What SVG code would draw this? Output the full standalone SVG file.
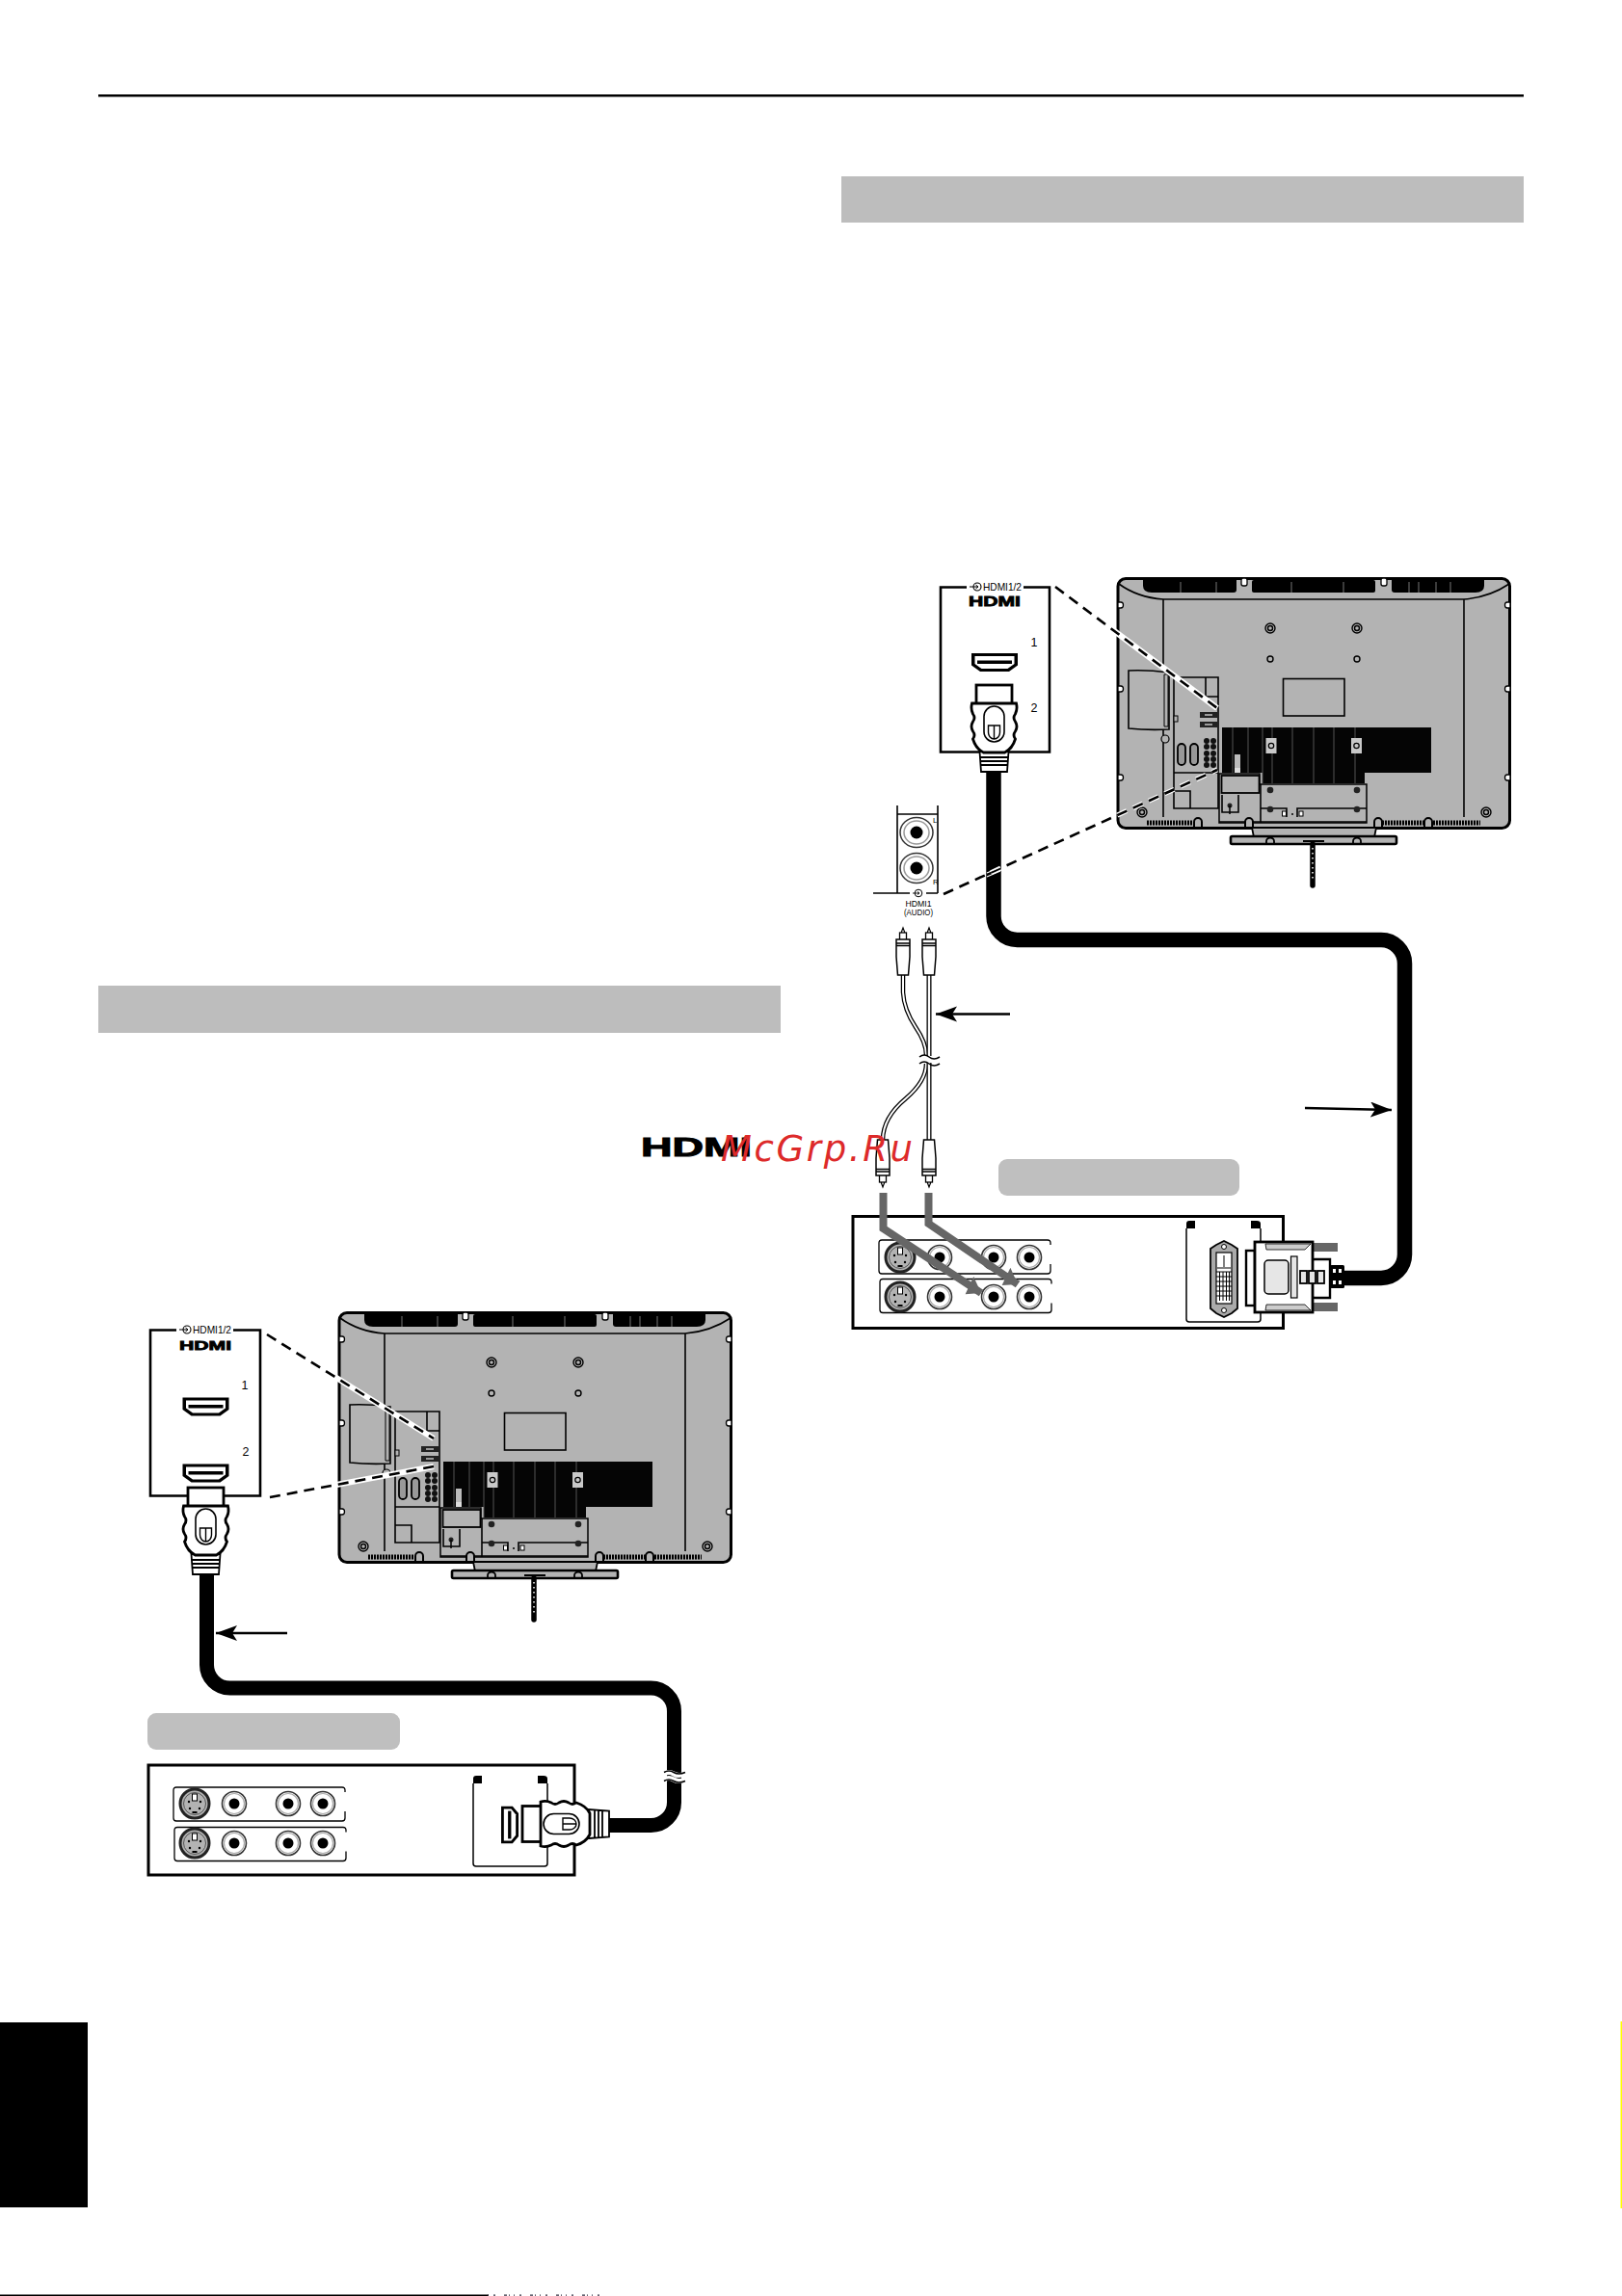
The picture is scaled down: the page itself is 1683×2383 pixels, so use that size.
<svg xmlns="http://www.w3.org/2000/svg" xmlns:xlink="http://www.w3.org/1999/xlink" width="1683" height="2383" viewBox="0 0 1683 2383">
<style>
.ln{fill:none;stroke:#000;stroke-width:1.6}
.th{fill:none;stroke:#000;stroke-width:2.6}
.gp{fill:#b3b3b3}
.bar{fill:#bdbdbd}
.pill{fill:#bfbfbf}
.cable{fill:none;stroke:#000;stroke-width:15.5}
.dash{fill:none;stroke:#000;stroke-width:2.6;stroke-dasharray:11 7}
.halo{fill:none;stroke:#fff;stroke-width:6}
.halo2{fill:none;stroke:#fff;stroke-width:5;stroke-dasharray:11 7}
.lab{font-family:"Liberation Sans",Arial,sans-serif;fill:#000}
.logo{font-family:"Liberation Sans",Arial,sans-serif;font-weight:700;fill:#000;stroke:#000}
.arrow{fill:none;stroke:#000;stroke-width:2.4}
.grey{fill:none;stroke:#666;stroke-width:8}
</style>
<defs>
<marker id="ah" markerUnits="userSpaceOnUse" markerWidth="24" markerHeight="18" refX="22" refY="8" orient="auto"><path d="M22 8 L0 0 L5 8 L0 16 Z" fill="#000"/></marker>
<marker id="gh" markerUnits="userSpaceOnUse" markerWidth="22" markerHeight="22" refX="16" refY="10" orient="auto"><path d="M16 10 L0 0 L3 20 Z" fill="#666"/></marker>
<g id="tv">
<rect x="1160" y="600.5" width="406.5" height="259" rx="8" class="gp" stroke="#000" stroke-width="3"/>
<path d="M1186 602 H1283 V612 Q1283 615 1280 615 H1195 Q1186 615 1186 608 Z"/>
<rect x="1299" y="602" width="128" height="13" rx="2"/>
<path d="M1444 602 H1540 V608 Q1540 615 1531 615 H1447 Q1444 615 1444 612 Z"/>
<path d="M1225 604 V615 M1262 604 V615 M1340 604 V615 M1394 604 V615 M1462 604 V615 M1472 604 V615 M1490 604 V615 M1505 604 V615" stroke="#777" stroke-width="1" fill="none"/>
<rect x="1288" y="600" width="6" height="8" rx="2" fill="#fff" stroke="#000" stroke-width="1.3"/>
<rect x="1433" y="600" width="6" height="8" rx="2" fill="#fff" stroke="#000" stroke-width="1.3"/>
<path class="ln" d="M1161 606 Q1180 620 1207 622 H1519 Q1545 620 1566 606 M1207 622 V848 M1519 622 V848"/>
<g fill="#fff" stroke="#000" stroke-width="1.3">
<path d="M1160 625 h3 a2.5 3 0 0 1 0 6 h-3 Z"/><path d="M1160 712 h3 a2.5 3 0 0 1 0 6 h-3 Z"/><path d="M1160 804 h3 a2.5 3 0 0 1 0 6 h-3 Z"/>
<path d="M1567 625 h-3 a2.5 3 0 0 0 0 6 h3 Z"/><path d="M1567 712 h-3 a2.5 3 0 0 0 0 6 h3 Z"/><path d="M1567 804 h-3 a2.5 3 0 0 0 0 6 h3 Z"/>
</g>
<g fill="none" stroke="#000" stroke-width="1.4">
<circle cx="1318" cy="652" r="5"/><circle cx="1318" cy="652" r="2.5"/>
<circle cx="1408" cy="652" r="5"/><circle cx="1408" cy="652" r="2.5"/>
<circle cx="1318" cy="684" r="3"/><circle cx="1408" cy="684" r="3"/>
<circle cx="1185" cy="843" r="5"/><circle cx="1185" cy="843" r="2.5"/>
<circle cx="1542" cy="843" r="5"/><circle cx="1542" cy="843" r="2.5"/>
</g>
<rect x="1331.5" y="704.5" width="63.500" height="38.500" class="ln"/>
<path class="gp" stroke="#000" stroke-width="1.6" d="M1171 696 Q1190 695 1213 698 V757 Q1190 758 1171 756 Z"/>
<path d="M1208 700 h4 v54 h-4 z" fill="none" stroke="#000" stroke-width="1"/>
<circle cx="1209" cy="767" r="4" class="gp" stroke="#000" stroke-width="1.2"/>
<path class="ln" d="M1218 703 H1264 V839 H1218 Z M1251 703 V723 H1264 M1218 802 H1264 M1218 821 H1235 V839"/>
<rect x="1218" y="743" width="4" height="6" fill="#b3b3b3" stroke="#000" stroke-width="1"/>
<rect x="1245" y="739" width="18" height="6" fill="#222"/><rect x="1245" y="749" width="18" height="6" fill="#222"/>
<rect x="1250" y="741" width="8" height="2" fill="#999"/><rect x="1250" y="751" width="8" height="2" fill="#999"/>
<rect x="1222" y="772" width="8" height="22" rx="4" fill="#999" stroke="#000" stroke-width="1.800"/><rect x="1235" y="772" width="8" height="22" rx="4" fill="#999" stroke="#000" stroke-width="1.800"/>
<g fill="#111"><circle cx="1252" cy="769" r="3"/><circle cx="1259" cy="769" r="3"/><circle cx="1252" cy="775" r="3"/><circle cx="1259" cy="775" r="3"/><circle cx="1252" cy="782" r="3"/><circle cx="1259" cy="782" r="3"/><circle cx="1252" cy="788" r="3"/><circle cx="1259" cy="788" r="3"/><circle cx="1252" cy="794" r="3"/><circle cx="1259" cy="794" r="3"/></g>
<path d="M1268 755 H1485 V802 H1416 V813 H1310 V802 H1268 Z" fill="#050505"/>
<path d="M1279 755 V802 M1295 755 V802 M1310 755 V813 M1320 755 V813 M1341 755 V813 M1363 755 V813 M1384 755 V813 M1406 755 V813" stroke="#555" stroke-width="1" fill="none"/>
<rect x="1313.500" y="766" width="11" height="16" fill="#c9c9c9"/><circle cx="1319" cy="774" r="2.700" fill="#c9c9c9" stroke="#000" stroke-width="1.200"/>
<rect x="1402" y="766" width="11" height="16" fill="#c9c9c9"/><circle cx="1407.500" cy="774" r="2.700" fill="#c9c9c9" stroke="#000" stroke-width="1.200"/>
<rect x="1281" y="783" width="6" height="14" fill="#bbb"/><rect x="1281" y="797" width="6" height="5" fill="#ddd"/>
<path class="gp" stroke="#000" stroke-width="1.500" d="M1265 803 H1307 V814 H1418 V848 L1418 854 H1265 Z"/>
<rect x="1267.500" y="805" width="39" height="18" class="gp" stroke="#000" stroke-width="1.800"/>
<path class="ln" d="M1268 825 V843 H1285 V825 M1308 814 V854 M1265 853 H1418"/>
<circle cx="1276" cy="836" r="2.500" fill="#222"/><path d="M1276 836 V845" stroke="#000" stroke-width="1.500"/>
<path class="ln" d="M1308 839 H1335 V848 M1346 848 V839 H1418"/>
<rect x="1330.500" y="842" width="4" height="5" fill="#fff" stroke="#000"/><rect x="1348" y="842" width="4" height="5" fill="#fff" stroke="#000"/>
<circle cx="1341" cy="845" r="1" fill="#000"/>
<g fill="#222"><circle cx="1318" cy="820" r="3.300"/><circle cx="1408" cy="820" r="3.300"/><circle cx="1318" cy="840" r="3.300"/><circle cx="1408" cy="840" r="3.300"/></g>
<path d="M1190 854 H1238 M1434 854 H1478 M1487 854 H1536" stroke="#000" stroke-width="5" fill="none" stroke-dasharray="2 1"/>
<g fill="#b3b3b3" stroke="#000" stroke-width="2"><path d="M1239 858 v-5 a4 4 0 0 1 8 0 v5"/><path d="M1292 858 v-5 a4 4 0 0 1 8 0 v5"/><path d="M1426 858 v-5 a4 4 0 0 1 8 0 v5"/><path d="M1478 858 v-5 a4 4 0 0 1 8 0 v5"/></g>
<path class="gp" stroke="#000" stroke-width="1.800" d="M1299 859 H1428 L1426 869 H1301 Z"/>
<rect x="1277" y="868" width="172" height="8" rx="1.500" class="gp" stroke="#000" stroke-width="2.600"/>
<path d="M1314 876 v-3 a4 3.500 0 0 1 8 0 v3 M1404 876 v-3 a4 3.500 0 0 1 8 0 v3" fill="none" stroke="#000" stroke-width="1.800"/>
<rect x="1352" y="872" width="22" height="2" fill="#000"/>
<path d="M1362 876 V919" stroke="#000" stroke-width="5.500" stroke-linecap="round"/>
<path d="M1362 880 V912" stroke="#fff" stroke-width="1.500" stroke-dasharray="1.500 3.500"/>
</g>
<g id="port">
<path d="M-24 -9.500 H24 V3 L15 9.500 H-15 L-24 3 Z" fill="#000"/>
<path d="M-20.500 -6.500 H20.500 V1.500 L13.500 6.500 H-13.500 L-20.500 1.500 Z" fill="#fff"/>
<rect x="-18" y="-2" width="36" height="3.500" fill="#000"/>
</g>
<g id="plug">
<path d="M-15 50 L-13.500 71 H13.500 L15 50 Z M-14 56 H14 M-14 60 H14 M-14 64 H14" fill="#fff" stroke="#000" stroke-width="1.800"/>
<rect x="-18.500" y="-19" width="37" height="20" fill="#fff" stroke="#000" stroke-width="2.800"/>
<path d="M-23 0 Q-24.500 6 -22 11 Q-19 15 -22 19 Q-25 24 -22 29 Q-19 33 -22 37 Q-19 47 -11 51 H11 Q19 47 22 37 Q19 33 22 29 Q25 24 22 19 Q19 15 22 11 Q24.500 6 23 0 Z" fill="#fff" stroke="#000" stroke-width="2.800"/>
<rect x="-10.500" y="3" width="21" height="37" rx="10.500" fill="#fff" stroke="#000" stroke-width="1.600"/>
<path d="M-6 23 H6 V30 A6 7 0 0 1 -6 30 Z M0 23 V37" fill="none" stroke="#000" stroke-width="1.400"/>
</g>
<g id="rca">
<circle r="12.500" fill="#fff" stroke="#333" stroke-width="1.600"/>
<circle r="10.500" fill="none" stroke="#aaa" stroke-width="1.200"/>
<circle r="5.500" fill="#000"/>
</g>
<g id="svid">
<circle r="15" fill="#b3b3b3" stroke="#222" stroke-width="3"/>
<circle r="11.500" fill="none" stroke="#555" stroke-width="1"/>
<rect x="-2.500" y="-10" width="5" height="7" fill="#fff" stroke="#000" stroke-width="1"/>
<g fill="#000"><circle cx="-6" cy="-2" r="1.200"/><circle cx="6" cy="-2" r="1.200"/><circle cx="-5" cy="5" r="1.200"/><circle cx="5" cy="5" r="1.200"/><rect x="-2.500" y="8" width="5" height="2"/></g>
</g>
<g id="rplug">
<path d="M-1.500 4 L0 0 L1.500 4 V6 H-1.500 Z" fill="#fff" stroke="#000" stroke-width="1.200"/>
<rect x="-3.500" y="5" width="7" height="8" fill="#fff" stroke="#000" stroke-width="1.300"/>
<path d="M-7 12 H7 V30 L5.500 49 H-5.500 L-7 30 Z M-7 16 H7 M-7 18.500 H7" fill="#fff" stroke="#000" stroke-width="1.500"/>
</g>
<g id="strip"><path class="ln" d="M178 5 V3 Q178 0 175 0 H3 Q0 0 0 3 V32 Q0 35 3 35 H175 Q178 35 178 32 V25" style="stroke-width:1.300"/></g>
</defs>

<g id="header">
<rect x="102" y="98" width="1479" height="2.500" fill="#000"/>
<rect class="bar" x="873" y="183" width="708" height="48"/>
<rect class="bar" x="102" y="1023" width="708" height="49"/>
<rect x="0" y="2099" width="91" height="192" fill="#000"/>
<rect x="1681.500" y="2098" width="1.500" height="194" fill="#ffff00"/>
<rect x="0" y="2381.500" width="507" height="1.500" fill="#000"/>
<path d="M506 2382.200 H630" stroke="#334" stroke-width="1.200" stroke-dasharray="1 5 2 9 3 2 1 4"/>
</g>

<g id="tv-right"><use xlink:href="#tv" href="#tv"/></g>
<g id="tv-left"><use xlink:href="#tv" href="#tv" transform="translate(-808 762)"/></g>

<g id="connectors">
<path class="cable" d="M1031 790 V951 A24.500 24.500 0 0 0 1055.500 975.500 H1433 A24.500 24.500 0 0 1 1457.500 1000 V1302 A24.500 24.500 0 0 1 1433 1326.500 H1395"/>
<path class="cable" d="M214.500 1630 V1728 A24 24 0 0 0 238.500 1752 H675.500 A24 24 0 0 1 699.500 1776 V1870 A24 24 0 0 1 675.500 1894.500 H630" style="stroke-width:15"/>
<path d="M689 1841 Q694 1838 699 1841 T711 1841 M689 1847 Q694 1844 699 1847 T711 1847" fill="none" stroke="#fff" stroke-width="5"/>
<path d="M689 1839.500 Q694 1836.500 699 1839.500 T711 1839.500 M689 1848.500 Q694 1845.500 699 1848.500 T711 1848.500" fill="none" stroke="#000" stroke-width="1.500"/>
<path class="halo" d="M1095 609 L1263 735"/>
<path class="dash" d="M1095 609 L1263 735"/>
<path class="halo2" d="M979 928 L1263 799"/>
<path class="dash" d="M979 928 L1263 799"/>
<path d="M1024 906 L1038 900 M1024 910 L1038 904" stroke="#fff" stroke-width="1.300" fill="none"/>
<path class="halo" d="M277 1385 L450 1493"/>
<path class="dash" d="M277 1385 L450 1493"/>
<path class="halo" d="M280 1554 L450 1522"/>
<path class="dash" d="M280 1554 L450 1522"/>
<path d="M937 1012 V1030 Q938 1048 950 1066 Q961 1082 961 1095 M961 1104 Q961 1122 940 1140 Q916 1160 916 1183" fill="none" stroke="#000" stroke-width="4.500"/>
<path d="M937 1012 V1030 Q938 1048 950 1066 Q961 1082 961 1095 M961 1104 Q961 1122 940 1140 Q916 1160 916 1183" fill="none" stroke="#fff" stroke-width="2"/>
<path d="M964 1012 V1096 M964 1103 V1183" fill="none" stroke="#000" stroke-width="5"/>
<path d="M964 1012 V1096 M964 1103 V1183" fill="none" stroke="#fff" stroke-width="2.400"/>
<path d="M954 1097 Q959 1093 964 1097 T975 1097 M954 1104 Q959 1100 964 1104 T975 1104" fill="none" stroke="#000" stroke-width="1.600"/>
<path class="arrow" marker-end="url(#ah)" d="M1048 1052.500 H971"/>
<path class="arrow" marker-end="url(#ah)" d="M1354 1150 L1444 1152"/>
<path class="arrow" marker-end="url(#ah)" d="M298 1695 H224"/>
</g>

<g id="inset-right">
<path class="th" d="M1003 609.500 H976 V780.500 H1089 V609.500 H1062"/>
<circle cx="1014" cy="609" r="4" fill="#fff" stroke="#000" stroke-width="1.100"/><path d="M1006 609 H1015 M1012.500 607 L1015 609 L1012.500 611" fill="none" stroke="#000" stroke-width="1"/>
<text class="lab" x="1020" y="613" font-size="11" textLength="40" lengthAdjust="spacingAndGlyphs">HDMI1/2</text>
<text class="logo" x="1005" y="629" font-size="14" textLength="54" lengthAdjust="spacingAndGlyphs" stroke-width=".8">HDMI</text>
<text class="lab" x="1073" y="671" font-size="12.500" text-anchor="middle">1</text>
<text class="lab" x="1073" y="739" font-size="12.500" text-anchor="middle">2</text>
<use xlink:href="#port" href="#port" transform="translate(1032 687.500)"/>
<use xlink:href="#plug" href="#plug" transform="translate(1031.500 730)"/>
</g>

<g id="inset-left">
<path class="th" d="M183 1380.500 H156 V1552.500 H270 V1380.500 H242"/>
<circle cx="194" cy="1380" r="4" fill="#fff" stroke="#000" stroke-width="1.100"/><path d="M186 1380 H195 M192.500 1378 L195 1380 L192.500 1382" fill="none" stroke="#000" stroke-width="1"/>
<text class="lab" x="200" y="1384" font-size="11" textLength="40" lengthAdjust="spacingAndGlyphs">HDMI1/2</text>
<text class="logo" x="186" y="1401" font-size="13" textLength="54" lengthAdjust="spacingAndGlyphs" stroke-width=".8">HDMI</text>
<text class="lab" x="254" y="1442" font-size="12.500" text-anchor="middle">1</text>
<text class="lab" x="255" y="1511" font-size="12.500" text-anchor="middle">2</text>
<use xlink:href="#port" href="#port" transform="translate(213.500 1460)"/>
<use xlink:href="#port" href="#port" transform="translate(213.500 1529)"/>
<use xlink:href="#plug" href="#plug" transform="translate(213.500 1563)"/>
</g>

<g id="audio-inset">
<path class="ln" d="M931 836 V927 M973 836 V927 M931 845 H973 M906 927 H944 M961 927 H973"/>
<g fill="#fff" stroke="#333" stroke-width="1.500">
<ellipse cx="951" cy="864" rx="17" ry="15.500"/><ellipse cx="951" cy="864" rx="13" ry="12" stroke="#999"/>
<ellipse cx="951" cy="901" rx="17" ry="15.500"/><ellipse cx="951" cy="901" rx="13" ry="12" stroke="#999"/>
</g>
<circle cx="951" cy="864" r="6.500"/><circle cx="951" cy="901" r="6.500"/>
<circle cx="953" cy="927" r="3.800" fill="#fff" stroke="#000" stroke-width="1"/><path d="M947 927 H954 M952 925.500 L954 927 L952 928.500" fill="none" stroke="#000" stroke-width=".9"/>
<text class="lab" x="968" y="854" font-size="8">L</text>
<text class="lab" x="968" y="918" font-size="8">R</text>
<text class="lab" x="953" y="941" font-size="9" text-anchor="middle" textLength="27" lengthAdjust="spacingAndGlyphs">HDMI1</text>
<text class="lab" x="953" y="949.500" font-size="9" text-anchor="middle" textLength="30" lengthAdjust="spacingAndGlyphs">(AUDIO)</text>
</g>

<g id="rca-cable">
<use xlink:href="#rplug" href="#rplug" transform="translate(937 963)"/>
<use xlink:href="#rplug" href="#rplug" transform="translate(964 963)"/>
<use xlink:href="#rplug" href="#rplug" transform="translate(916 1232) scale(1 -1)"/>
<use xlink:href="#rplug" href="#rplug" transform="translate(964 1232) scale(1 -1)"/>
</g>

<g id="device-right">
<rect class="pill" x="1036" y="1203" width="250" height="38" rx="9"/>
<rect x="885" y="1262.500" width="446.500" height="116" fill="#fff" stroke="#000" stroke-width="3"/>
<use xlink:href="#strip" href="#strip" transform="translate(912 1287)"/>
<use xlink:href="#strip" href="#strip" transform="translate(913 1327.500)"/>
<use xlink:href="#svid" href="#svid" transform="translate(934 1305)"/>
<use xlink:href="#rca" href="#rca" transform="translate(975 1305)"/>
<use xlink:href="#rca" href="#rca" transform="translate(1031 1305)"/>
<use xlink:href="#rca" href="#rca" transform="translate(1068 1305)"/>
<use xlink:href="#svid" href="#svid" transform="translate(934 1346)"/>
<use xlink:href="#rca" href="#rca" transform="translate(975 1346)"/>
<use xlink:href="#rca" href="#rca" transform="translate(1031 1346)"/>
<use xlink:href="#rca" href="#rca" transform="translate(1068 1346)"/>
<path class="grey" marker-end="url(#gh)" d="M916.500 1238 V1275 L1018 1342"/>
<path class="grey" marker-end="url(#gh)" d="M963.500 1238 V1270 L1056 1333"/>
<path d="M1231 1275 V1369 Q1231 1372 1234 1372 H1305 Q1308 1372 1308 1369 V1275" fill="none" stroke="#000" stroke-width="1.500"/>
<path d="M1231 1275 V1270 Q1231 1267 1234 1267 H1240 V1275 Z M1298 1267 H1304 Q1308 1267 1308 1270 V1275 H1298 Z"/>
<path d="M1262 1292 L1270 1288 L1278 1292 L1284 1296 V1358 L1278 1363 L1270 1367 L1262 1363 L1256 1358 V1296 Z" fill="#aaa" stroke="#000" stroke-width="1.800"/>
<rect x="1262" y="1300" width="16" height="53" fill="#fff" stroke="#000" stroke-width="1.200"/>
<path d="M1265.500 1320 V1350 M1269 1320 V1350 M1272.500 1320 V1350 M1275.500 1320 V1350 M1262 1320 H1278 M1262 1325 H1278 M1262 1330 H1278 M1262 1335 H1278 M1262 1340 H1278 M1262 1345 H1278 M1270 1303 V1315 M1263 1316 H1277" stroke="#000" stroke-width="1" fill="none"/>
<circle cx="1270" cy="1294" r="2.500" fill="#fff" stroke="#000"/><circle cx="1270" cy="1360" r="2.500" fill="#fff" stroke="#000"/>
<rect x="1293" y="1298" width="9" height="57" fill="#fff" stroke="#000" stroke-width="2.400"/>
<rect x="1361" y="1290" width="27" height="9" fill="#666"/><rect x="1361" y="1352" width="27" height="9" fill="#666"/>
<path d="M1348 1312 Q1355 1307 1365 1307 H1380 V1347 H1365 Q1355 1347 1348 1342 Z" fill="#fff" stroke="#000" stroke-width="2.400"/>
<rect x="1302" y="1289" width="60" height="73" fill="#fff" stroke="#000" stroke-width="2.800"/>
<path d="M1313 1291 H1360 L1354 1297 H1314 Z M1313 1360 H1360 L1354 1354 H1314 Z" fill="#ccc" stroke="#000" stroke-width=".8"/>
<rect x="1312" y="1308" width="25" height="35" rx="4" fill="#e6e6e6" stroke="#000" stroke-width="1.500"/>
<rect x="1339.500" y="1304" width="6.500" height="43" fill="#e6e6e6" stroke="#000" stroke-width="1.200"/>
<rect x="1349" y="1319" width="7" height="13" fill="#e6e6e6" stroke="#000" stroke-width="1.800"/><rect x="1358" y="1319" width="7" height="13" fill="#e6e6e6" stroke="#000" stroke-width="1.800"/><rect x="1367" y="1319" width="7" height="13" fill="#e6e6e6" stroke="#000" stroke-width="1.800"/>
<rect x="1380" y="1313" width="15" height="24" rx="1.500" fill="#000"/>
<path d="M1383 1317 h3 v4 h-3 z M1389 1317 h3 v4 h-3 z M1383 1329 h3 v4 h-3 z M1389 1329 h3 v4 h-3 z" fill="#fff"/>
</g>

<g id="device-left">
<rect class="pill" x="153" y="1778" width="262" height="38" rx="9"/>
<rect x="154" y="1832" width="442" height="114" fill="#fff" stroke="#000" stroke-width="3"/>
<use xlink:href="#strip" href="#strip" transform="translate(180 1855)"/>
<use xlink:href="#strip" href="#strip" transform="translate(181 1896.500)"/>
<use xlink:href="#svid" href="#svid" transform="translate(202 1872)"/>
<use xlink:href="#rca" href="#rca" transform="translate(243 1872)"/>
<use xlink:href="#rca" href="#rca" transform="translate(299 1872)"/>
<use xlink:href="#rca" href="#rca" transform="translate(335 1872)"/>
<use xlink:href="#svid" href="#svid" transform="translate(202 1913)"/>
<use xlink:href="#rca" href="#rca" transform="translate(243 1913)"/>
<use xlink:href="#rca" href="#rca" transform="translate(299 1913)"/>
<use xlink:href="#rca" href="#rca" transform="translate(335 1913)"/>
<path d="M491 1851 V1934 Q491 1937 494 1937 H565 Q568 1937 568 1934 V1851" fill="none" stroke="#000" stroke-width="1.500"/>
<path d="M491 1851 V1846 Q491 1843 494 1843 H500 V1851 Z M558 1843 H564 Q568 1843 568 1846 V1851 H558 Z"/>
<use xlink:href="#port" href="#port" transform="translate(529 1894) rotate(-90) scale(.8 .95)"/>
<use xlink:href="#plug" href="#plug" transform="translate(561 1893) rotate(-90)"/>
</g>

<g id="hdmi-logo">
<text class="logo" x="665" y="1200" font-size="28" textLength="115" lengthAdjust="spacingAndGlyphs" stroke-width="1">HDMI</text>
</g>
<text id="watermark" x="748" y="1205" font-family="DejaVu Sans, sans-serif" font-style="oblique" font-size="37" textLength="199" fill="#dd2a2a">McGrp.Ru</text>
</svg>
